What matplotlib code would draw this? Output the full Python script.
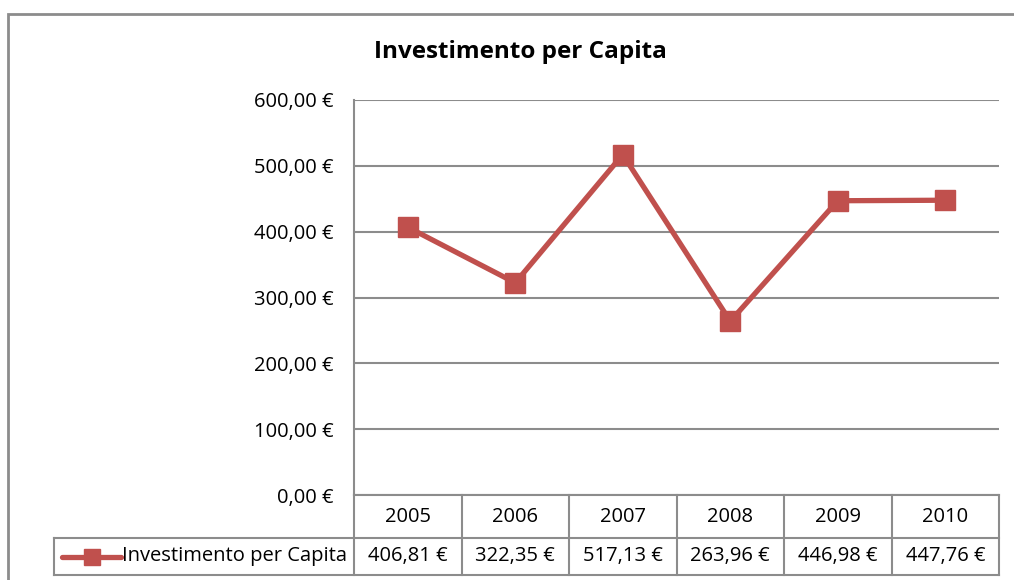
import matplotlib
matplotlib.use("Agg")
from matplotlib import pyplot as plt
from matplotlib import transforms
from matplotlib.lines import Line2D
from matplotlib.patches import Rectangle

anni = ["2005", "2006", "2007", "2008", "2009", "2010"]
valori = [406.81, 322.35, 517.13, 263.96, 446.98, 447.76]
serie = "Investimento per Capita"
titolo = "Investimento per Capita"

rosso = "#C0504D"
grigio = "#8C8C8C"
W, H = 1014, 580
fs = 14.5

plt.rcParams['font.family'] = ['Open Sans', 'DejaVu Sans']

fig = plt.figure(figsize=(W / 100, H / 100), dpi=100)

# cornice esterna (solo bordo sinistro e alto visibili)
fig.patches.append(Rectangle((8 / W, -0.1), 1.2, (H - 14) / H + 0.1, transform=fig.transFigure,
                             fill=False, edgecolor=grigio, linewidth=2))

ax = fig.add_axes([354 / W, (H - 495) / H, (999 - 354) / W, (495 - 100) / H])
x = list(range(len(valori)))
ax.plot(x, valori, color=rosso, linewidth=3.8, marker="s", markersize=15,
        markerfacecolor=rosso, markeredgecolor=rosso, solid_joinstyle="miter")
ax.set_xlim(-0.5, len(valori) - 0.5)
ax.set_ylim(0, 600)
ax.set_yticks(range(0, 601, 100))
ax.set_yticklabels(["{:.2f} €".format(v).replace(".", ",") for v in range(0, 601, 100)], fontsize=fs)
ax.tick_params(axis="y", length=0, pad=15)
ax.set_xticks([])
ax.grid(axis="y", color=grigio, linewidth=1.5)
ax.set_axisbelow(True)
for s in ["top", "right", "bottom"]:
    ax.spines[s].set_visible(False)
ax.spines["left"].set_color(grigio)
ax.spines["left"].set_linewidth(1.5)

fig.text(520 / W, 1 - 52 / H, titolo, ha="center", va="center", fontsize=17.5, fontweight="bold")

# tabella dati
tr = transforms.blended_transform_factory(ax.transData, ax.transAxes)
px = 1 / 395
r1 = -(538 - 495) * px
r2 = -(575 - 495) * px
xl = -0.5 - (354 - 54) / 107.5
n = len(valori)
kw = dict(color=grigio, linewidth=1.5, transform=tr, clip_on=False)
ax.add_line(Line2D([-0.5, n - 0.5], [0, 0], **kw))
ax.add_line(Line2D([xl, xl], [r1, r2], **kw))
ax.add_line(Line2D([xl, n - 0.5], [r1, r1], **kw))
ax.add_line(Line2D([xl, n - 0.5], [r2, r2], **kw))
for i in range(n + 1):
    ax.add_line(Line2D([i - 0.5, i - 0.5], [0, r2], **kw))
for i in range(n):
    ax.text(i, r1 / 2, anni[i], transform=tr, ha="center", va="center", fontsize=fs)
    ax.text(i, (r1 + r2) / 2, "{:.2f} €".format(valori[i]).replace(".", ","), transform=tr,
            ha="center", va="center", fontsize=fs)

# legenda nella tabella
ym = (r1 + r2) / 2
xs0 = xl + 8 / 107.5
xs1 = xl + 67 / 107.5
ax.add_line(Line2D([xs0, xs1], [ym, ym], color=rosso, linewidth=3.8, transform=tr,
                   clip_on=False, solid_capstyle="round"))
ax.add_line(Line2D([(xs0 + xs1) / 2], [ym], color=rosso, marker="s", markersize=11,
                   transform=tr, clip_on=False))
ax.text(xs1 + 1 / 107.5, ym, serie, transform=tr, ha="left", va="center", fontsize=fs)

fig.savefig("out.png", dpi=100)
